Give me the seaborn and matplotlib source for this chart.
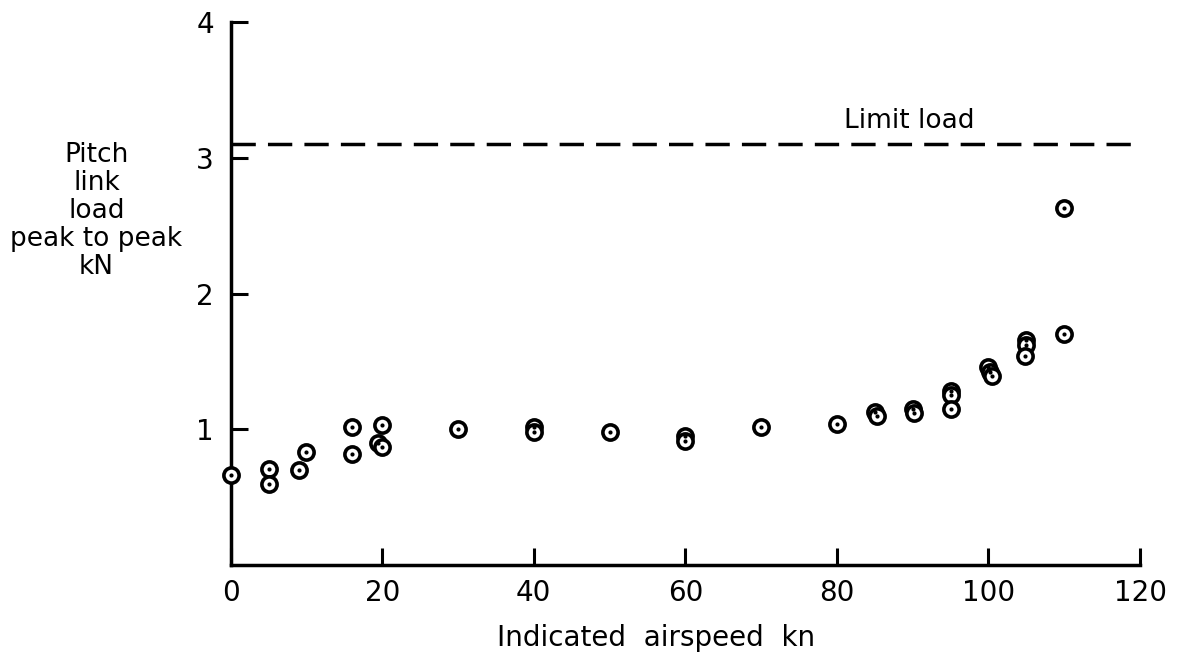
import matplotlib
matplotlib.use("Agg")
import matplotlib.pyplot as plt
import pandas as pd
import seaborn as sns

# Data
airspeed = [0, 5, 5, 9, 10, 16, 16, 19.5, 20, 20, 30, 40, 40, 50, 60, 60, 70, 80,
            85, 85.3, 90, 90.2, 95, 95, 95, 100, 100.2, 100.5, 105, 105, 104.8,
            110, 110]
link_load = [0.66, 0.71, 0.60, 0.70, 0.83, 1.02, 0.82, 0.90, 0.87, 1.03, 1.00,
             1.02, 0.98, 0.98, 0.95, 0.91, 1.02, 1.04, 1.13, 1.10, 1.15, 1.12,
             1.28, 1.25, 1.15, 1.46, 1.42, 1.39, 1.66, 1.62, 1.54, 1.70, 2.63]
limit_load = 3.1
x_ticks = [0, 20, 40, 60, 80, 100, 120]
y_ticks = [1, 2, 3, 4]

df = pd.DataFrame({"airspeed": airspeed, "load": link_load})

sns.set_style("white")
plt.rcParams["font.family"] = ["DejaVu Sans"]
plt.rcParams["text.color"] = "black"

fig = plt.figure(figsize=(11.77, 6.59), dpi=100)
ax = fig.add_axes([0.196, 0.1426, 0.7726, 0.824])

# open circles with a centre dot
sns.scatterplot(x="airspeed", y="load", data=df, marker="o", s=120,
                facecolor="white", edgecolor="black", linewidth=2.6, ax=ax,
                zorder=3, clip_on=False)
sns.scatterplot(x="airspeed", y="load", data=df, marker="o", s=9,
                color="black", edgecolor="black", linewidth=0, ax=ax, zorder=4,
                clip_on=False)

# limit load line
ax.axhline(limit_load, color="black", linestyle=(0, (7, 3.5)), linewidth=2.5)
ax.text(89.6, 3.27, "Limit load", fontsize=19, ha="center", va="center")

ax.set_xlim(0, 120)
ax.set_ylim(0, 4)
ax.set_xticks(x_ticks)
ax.set_yticks(y_ticks)
ax.tick_params(bottom=True, left=True, direction="in", length=12, width=2.2,
               labelsize=20, colors="black")
ax.tick_params(axis="y", pad=12)
ax.tick_params(axis="x", pad=10)

for side in ["top", "right"]:
    ax.spines[side].set_visible(False)
for side in ["left", "bottom"]:
    ax.spines[side].set_linewidth(2.5)
    ax.spines[side].set_color("black")

ax.set_xlabel("")
ax.set_ylabel("")
fig.text(0.557, 0.032, "Indicated  airspeed  kn", fontsize=20, ha="center",
         va="center")
fig.text(0.082, 0.68, "Pitch\nlink\nload\npeak to peak\nkN", fontsize=19,
         ha="center", va="center", linespacing=1.1)

plt.savefig("out.png", dpi=100)
